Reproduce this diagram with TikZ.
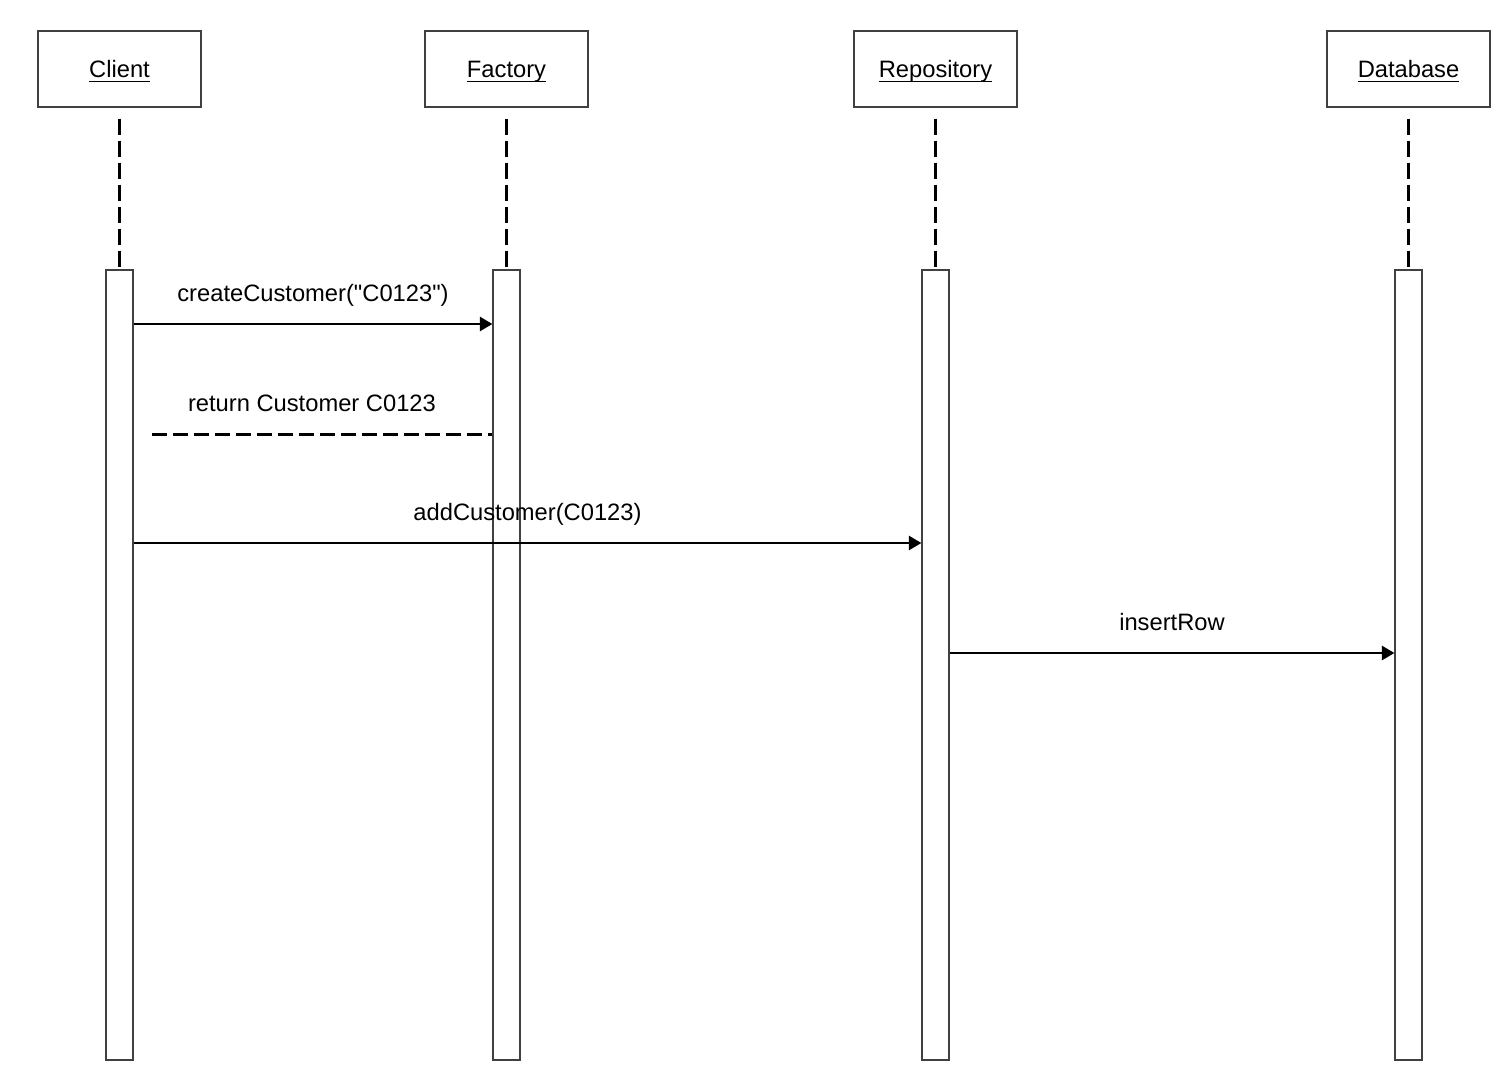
\documentclass[tikz,border=0pt]{standalone}
\usepackage{amsmath}
\usepackage{fontspec}
\setmainfont{Liberation Sans}
\usetikzlibrary{arrows.meta}

\newcommand{\objname}[1]{\underline{\smash[b]{#1}}}

\begin{document}
\begin{tikzpicture}[x=0.02cm, y=-0.02cm,
        obj/.style={rectangle, draw=black!75, line width=0.8pt, minimum width=3.26cm, minimum height=1.52cm, text height=11.5pt, text depth=1.3pt, font=\fontsize{13.5}{16}\selectfont},
        bar/.style={rectangle, draw=black!75, line width=0.8pt, minimum width=0.54cm, minimum height=15.8cm, inner sep=0pt},
        life/.style={line width=1.7pt, dash pattern=on 0.32cm off 0.12cm},
        msg/.style={line width=0.8pt, -{Triangle[length=0.25cm, width=0.29cm]}},
        ret/.style={line width=1.7pt, dash pattern=on 0.3cm off 0.12cm},
        lbl/.style={font=\fontsize{13.5}{16}\selectfont, inner sep=0pt, anchor=base, yshift=0.45cm}]
        \useasboundingbox (0,0) rectangle (1500,1082);

        \node[obj] (client) at (119.5, 69) {\objname{Client}};
        \node[obj] (factory) at (506.5, 69) {\objname{Factory}};
        \node[obj] (repo) at (935.5, 69) {\objname{Repository}};
        \node[obj] (db) at (1408.5, 69) {\objname{Database}};

        \node[bar] (clientbar) at (119.5, 665) {};
        \node[bar] (factorybar) at (506.5, 665) {};
        \node[bar] (repobar) at (935.5, 665) {};
        \node[bar] (dbbar) at (1408.5, 665) {};

        \draw[life] ([yshift=-0.22cm]client.south) -- (clientbar.north);
        \draw[life] ([yshift=-0.22cm]factory.south) -- (factorybar.north);
        \draw[life] ([yshift=-0.22cm]repo.south) -- (repobar.north);
        \draw[life] ([yshift=-0.22cm]db.south) -- (dbbar.north);

        \coordinate (m1) at (0, 324);
        \coordinate (m2) at (0, 434);
        \coordinate (m3) at (0, 543);
        \coordinate (m4) at (0, 653);
        \coordinate (retend) at (152, 434);

        \draw[msg] (clientbar.east |- m1) -- node[lbl] {createCustomer(\textquotedbl C0123\textquotedbl)} (factorybar.west |- m1);
        \draw[ret] (retend) -- node[lbl, pos=0.47] {return Customer C0123} (factorybar.west |- m2);
        \draw[msg] (clientbar.east |- m3) -- node[lbl] {addCustomer(C0123)} (repobar.west |- m3);
        \draw[msg] (repobar.east |- m4) -- node[lbl] {insertRow} (dbbar.west |- m4);
    \end{tikzpicture}
\end{document}
